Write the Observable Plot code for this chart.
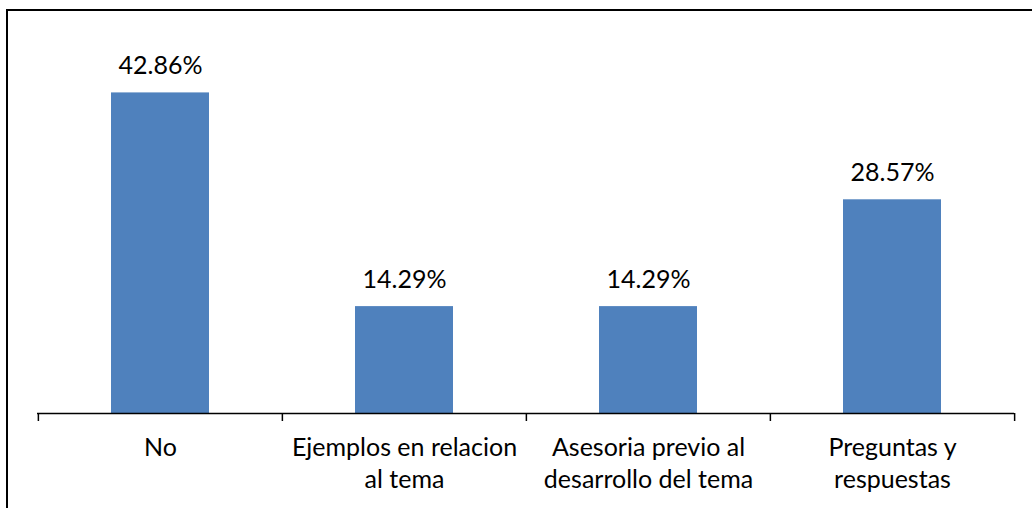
<!DOCTYPE html>
<html>
<head>
<meta charset="utf-8">
<script src="https://cdn.jsdelivr.net/npm/d3@7"></script>
<script src="https://cdn.jsdelivr.net/npm/@observablehq/plot@0.6"></script>
<style>
  html, body { margin: 0; padding: 0; background: #fff; overflow: hidden; }
  #wrap { position: relative; width: 1032px; height: 508px; }
  #frame { position: absolute; left: 6px; top: 9px; width: 1100px; height: 600px;
           border-left: 2px solid #000; border-top: 2px solid #000; box-sizing: border-box; }
  #chart { position: absolute; left: 0; top: 0; }
</style>
</head>
<body>
<div id="wrap"><div id="frame"></div><div id="chart"></div></div>
<script>
const categories = ["No", "Ejemplos en relacion al tema", "Asesoria previo al desarrollo del tema", "Preguntas y respuestas"];
const values = [42.86, 14.29, 14.29, 28.57];
const tickLabels = ["No", "Ejemplos en relacion\nal tema", "Asesoria previo al\ndesarrollo del tema", "Preguntas y\nrespuestas"];

const data = categories.map((c, i) => ({category: c, value: values[i], label: tickLabels[i]}));
const FONT = "Lato, 'Open Sans', sans-serif";
const FS = 25;

const W = 1032, H = 508;
const mL = 37, mR = 18, mT = 39, mB = 95;
const step = (W - mL - mR) / categories.length;
const tickLen = 8 / ((H - mT - mB) / 50);

const edges = categories.map((c, i) => ({category: c, side: -1}))
  .concat([{category: categories[categories.length - 1], side: 1}]);

const chart = Plot.plot({
  width: W,
  height: H,
  marginLeft: mL,
  marginRight: mR,
  marginTop: mT,
  marginBottom: mB,
  style: {fontFamily: FONT, background: "transparent"},
  x: {domain: categories, padding: 0.6, paddingOuter: 0.3, axis: null},
  y: {domain: [0, 50], axis: null},
  marks: [
    Plot.barY(data, {x: "category", y: "value", fill: "#4F81BD"}),
    Plot.ruleY([0], {stroke: "#000", strokeWidth: 1.5}),
    Plot.ruleX(edges.filter(d => d.side < 0), {x: "category", dx: -step / 2, y1: 0, y2: -tickLen, stroke: "#000", strokeWidth: 1.5}),
    Plot.ruleX(edges.filter(d => d.side > 0), {x: "category", dx: step / 2, y1: 0, y2: -tickLen, stroke: "#000", strokeWidth: 1.5}),
    Plot.text(data, {x: "category", y: "value", text: d => d.value.toFixed(2) + "%", dy: -27, fontSize: FS, fill: "#000", fontFamily: FONT}),
    Plot.text(data, {x: "category", text: "label", frameAnchor: "bottom", lineAnchor: "top", dy: 19, lineHeight: 1.3, fontSize: FS, fill: "#000", fontFamily: FONT})
  ]
});
document.getElementById("chart").appendChild(chart);
</script>
</body>
</html>
